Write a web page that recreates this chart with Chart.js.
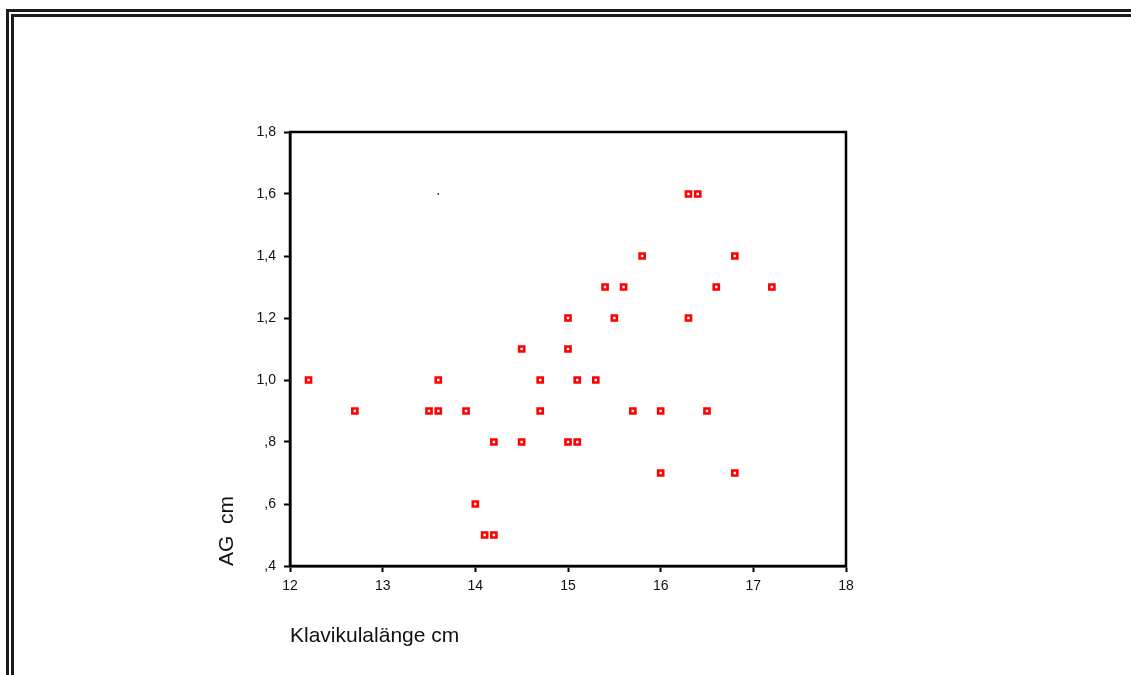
<!DOCTYPE html>
<html>
<head>
<meta charset="utf-8">
<script src="https://cdn.jsdelivr.net/npm/chart.js@4.4.0/dist/chart.umd.min.js"></script>
<style>
  html, body { margin: 0; padding: 0; background: #fff; }
  #wrap { position: relative; width: 1131px; height: 675px; overflow: hidden; }
  .frame { position: absolute; right: -10px; bottom: -10px; border-top: 3px solid #1c1c1c; border-left: 3px solid #1c1c1c; }
  #outer { left: 6px; top: 9px; }
  #inner { left: 11px; top: 14px; }
  #chart { position: absolute; left: 0; top: 0; }
</style>
</head>
<body>
<div id="wrap">
  <div class="frame" id="outer"></div>
  <div class="frame" id="inner"></div>
  <canvas id="chart" width="1131" height="675"></canvas>
</div>
<script>
// Klavikulalänge (cm) vs AG (cm)
var klavikula = [12.2, 12.7, 13.5, 13.6, 13.6, 13.9, 14.0, 14.1, 14.2, 14.2,
  14.5, 14.5, 14.7, 14.7, 15.0, 15.0, 15.0, 15.1, 15.1, 15.3,
  15.4, 15.5, 15.6, 15.7, 15.8, 16.0, 16.0, 16.3, 16.3, 16.4,
  16.5, 16.6, 16.8, 16.8, 17.2];
var ag = [1.0, 0.9, 0.9, 0.9, 1.0, 0.9, 0.6, 0.5, 0.8, 0.5,
  1.1, 0.8, 1.0, 0.9, 1.2, 1.1, 0.8, 0.8, 1.0, 1.0,
  1.3, 1.2, 1.3, 0.9, 1.4, 0.9, 0.7, 1.6, 1.2, 1.6,
  0.9, 1.3, 1.4, 0.7, 1.3];

// stray tiny black mark in the original
var strayX = [13.6];
var strayY = [1.6];

var xTicks = [12, 13, 14, 15, 16, 17, 18];
var yTicks = [0.4, 0.6, 0.8, 1.0, 1.2, 1.4, 1.6, 1.8];
var yTickLabels = [",4", ",6", ",8", "1,0", "1,2", "1,4", "1,6", "1,8"];

var xTitle = "Klavikulalänge cm";
var yTitle = "AG  cm";

function toPoints(xs, ys) {
  return xs.map(function (x, i) {
    return { x: x, y: ys[i] };
  });
}

var boxPlugin = {
  id: "plotBox",
  afterDraw: function (chart) {
    var a = chart.chartArea;
    var ctx = chart.ctx;
    ctx.save();
    ctx.strokeStyle = "#000";
    ctx.lineWidth = 2.5;
    ctx.strokeRect(a.left, a.top, a.right - a.left, a.bottom - a.top);
    ctx.restore();
  },
};

var tickFont = { family: '"Liberation Sans", Arial, sans-serif', size: 14 };
var titleFont = { family: '"Liberation Sans", Arial, sans-serif', size: 21 };

new Chart(document.getElementById("chart"), {
  type: "scatter",
  data: {
    datasets: [
      {
        label: "AG",
        data: toPoints(klavikula, ag),
        pointStyle: "rect",
        pointRadius: 3.6,
        pointBorderWidth: 2.6,
        borderColor: "#ff0000",
        backgroundColor: "#ffffff",
      },
      {
        label: "stray",
        data: toPoints(strayX, strayY),
        pointStyle: "rect",
        pointRadius: 1,
        pointBorderWidth: 0,
        borderColor: "#000",
        backgroundColor: "#000",
      },
    ],
  },
  options: {
    responsive: false,
    animation: false,
    layout: {
      padding: { left: 210, right: 285, top: 132, bottom: 20 },
    },
    plugins: {
      legend: { display: false },
      tooltip: { enabled: false },
    },
    scales: {
      x: {
        type: "linear",
        min: 12,
        max: 18,
        afterBuildTicks: function (scale) {
          scale.ticks = xTicks.map(function (v) { return { value: v }; });
        },
        afterFit: function (scale) {
          scale.height = 89;
        },
        ticks: {
          color: "#111",
          font: tickFont,
          padding: 6,
          maxRotation: 0,
          callback: function (value) {
            return String(value);
          },
        },
        grid: {
          display: true,
          drawOnChartArea: false,
          drawTicks: true,
          tickLength: 6,
          tickWidth: 2,
          tickColor: "#000",
        },
        border: { display: true, color: "#000", width: 2.5 },
        title: {
          display: true,
          text: xTitle,
          align: "start",
          color: "#111",
          font: titleFont,
          padding: { top: 0, bottom: 6 },
        },
      },
      y: {
        type: "linear",
        min: 0.4,
        max: 1.8,
        afterBuildTicks: function (scale) {
          scale.ticks = yTicks.map(function (v) { return { value: v }; });
        },
        afterFit: function (scale) {
          scale.width = 80;
        },
        ticks: {
          color: "#111",
          font: tickFont,
          padding: 8,
          callback: function (value, index) {
            return yTickLabels[index];
          },
        },
        grid: {
          display: true,
          drawOnChartArea: false,
          drawTicks: true,
          tickLength: 6,
          tickWidth: 2,
          tickColor: "#000",
        },
        border: { display: true, color: "#000", width: 2.5 },
        title: {
          display: true,
          text: yTitle,
          align: "start",
          color: "#111",
          font: titleFont,
          padding: { top: 5, bottom: 0 },
        },
      },
    },
  },
  plugins: [boxPlugin],
});
</script>
</body>
</html>
